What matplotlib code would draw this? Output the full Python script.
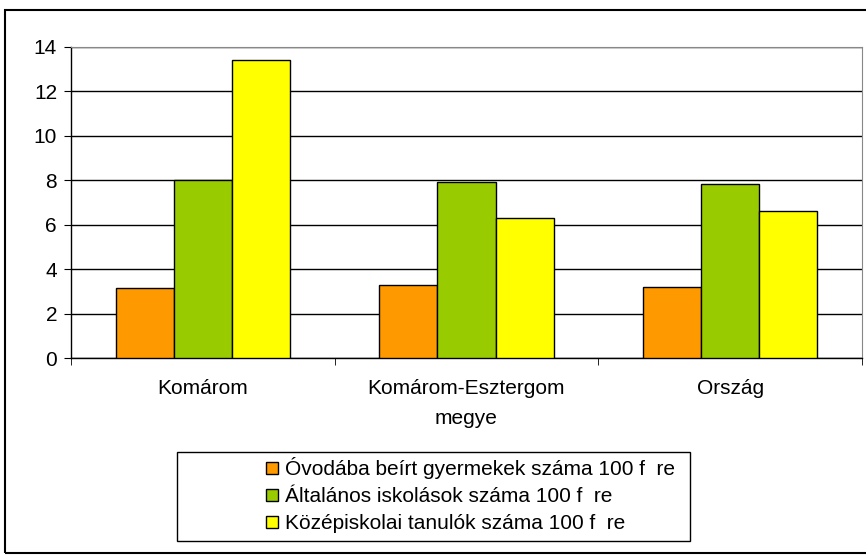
import matplotlib.pyplot as plt
import numpy as np
from matplotlib.patches import Rectangle

plt.rcParams['font.family'] = ['Liberation Sans', 'DejaVu Sans']

categories = ['Komárom', 'Komárom-Esztergom\nmegye', 'Ország']
series = ['Óvodába beírt gyermekek száma 100 f  re',
          'Általános iskolások száma 100 f  re',
          'Középiskolai tanulók száma 100 f  re']
ovoda = [3.15, 3.3, 3.2]
altalanos = [8.0, 7.93, 7.85]
kozep = [13.4, 6.3, 6.6]
colors = ['#FF9900', '#99CC00', '#FFFF00']

fig = plt.figure(figsize=(8.66, 5.6), dpi=100)
ax = fig.add_axes([71/866, 1-358/560, 791/866, 311/560])

x = np.arange(len(categories))
width = 0.22
for i, (vals, lab) in enumerate(zip([ovoda, altalanos, kozep], series)):
    ax.bar(x + (i - 1)*width, vals, width, color=colors[i], edgecolor='black',
           linewidth=1, label=lab, zorder=3)

fs = 15
ax.set_xlim(-0.5, 2.5)
ax.set_ylim(0, 14)
ax.set_yticks(range(0, 15, 2))
ax.yaxis.grid(True, color='black', linewidth=1, zorder=0)
ax.set_xticks(x)
ax.set_xticklabels(categories, fontsize=fs, linespacing=1.75)
ax.set_xticks([-0.5, 0.5, 1.5, 2.5], minor=True)
ax.tick_params(axis='x', which='major', length=0, pad=15)
ax.tick_params(axis='x', which='minor', length=5, direction='out')
ax.tick_params(axis='y', length=5, direction='out', labelsize=fs, pad=5)
for s in ['top', 'right']:
    ax.spines[s].set_color('#888888')
ax.spines['left'].set_linewidth(1)
ax.spines['bottom'].set_linewidth(1)

# outer chart frame
fig.patches.append(Rectangle((5/866, 1-553/560), 870/866, 543/560,
                             transform=fig.transFigure, fill=False,
                             edgecolor='black', linewidth=1.5))
# legend box
fig.patches.append(Rectangle((177/866, 1-541/560), 513/866, 89/560,
                             transform=fig.transFigure, fill=False,
                             edgecolor='black', linewidth=1))
fig.legend(loc='upper left', bbox_to_anchor=(258/866, 1-449/560), frameon=False,
           fontsize=fs, handlelength=0.55, handleheight=0.55, handletextpad=0.35,
           labelspacing=0.38, borderaxespad=0)

fig.savefig('out.png', dpi=100)
